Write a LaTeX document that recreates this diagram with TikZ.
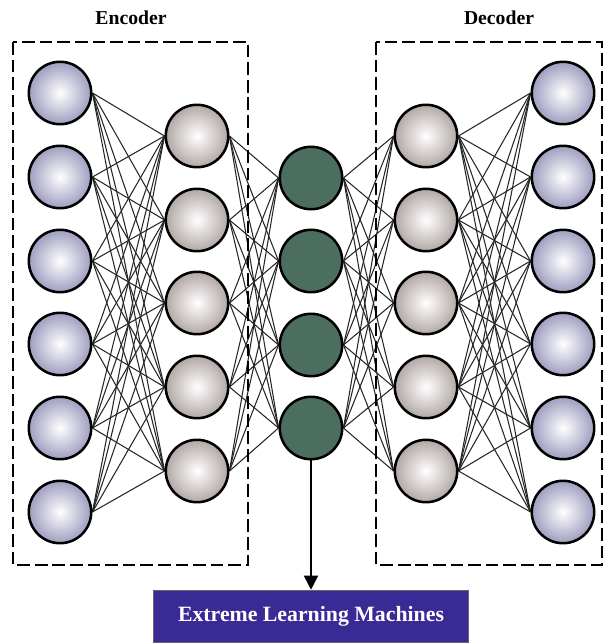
\documentclass[tikz,border=0pt]{standalone}
\usepackage{fontspec}
\setmainfont{Liberation Serif}
\usetikzlibrary{positioning,arrows.meta,backgrounds}
\definecolor{lavblue}{RGB}{158,158,192}
\definecolor{hidgrey}{RGB}{178,168,165}
\definecolor{codegreen}{RGB}{75,110,94}
\definecolor{elmblue}{RGB}{58,42,150}

\begin{document}
\begin{tikzpicture}[x=0.025cm, y=-0.025cm,
  neuron/.style={circle, draw=black, line width=1.8pt, minimum size=1.56cm, inner sep=0pt},
  outer/.style={neuron, inner color=white, outer color=lavblue},
  hid/.style={neuron, inner color=white, outer color=hidgrey},
  code/.style={neuron, fill=codegreen},
  wire/.style={line width=0.75pt, black!85},
  dbox/.style={line width=1.4pt, dash pattern=on 9pt off 3.5pt},
  lbl/.style={font=\fontsize{14}{16}\selectfont\bfseries, inner sep=1pt},
  elmbox/.style={draw=black!60, fill=elmblue, text=white, minimum width=7.875cm, minimum height=1.3cm, font=\fontsize{15.5}{18}\selectfont\bfseries}]
\useasboundingbox (0,0) rectangle (605,644);
% layers
\foreach \i/\y in {1/93, 2/177, 3/261, 4/344, 5/428, 6/512}{
  \node[outer] (in\i) at (60,\y) {};
  \node[outer] (out\i) at (563,\y) {};
}
\foreach \i/\y in {1/136, 2/220, 3/303, 4/387, 5/471}{
  \node[hid] (he\i) at (197,\y) {};
  \node[hid] (hd\i) at (426,\y) {};
}
\foreach \i/\y in {1/178, 2/261, 3/345, 4/428}{\node[code] (z\i) at (311,\y) {};}
% connections
\begin{scope}[on background layer]
\foreach \a in {1,...,6}{\foreach \b in {1,...,5}{
  \draw[wire] (in\a.east) -- (he\b.west);
  \draw[wire] (hd\b.east) -- (out\a.west);
}}
\foreach \a in {1,...,5}{\foreach \b in {1,...,4}{
  \draw[wire] (he\a.east) -- (z\b.west);
  \draw[wire] (z\b.east) -- (hd\a.west);
}}
\end{scope}
% boxes and labels
\draw[dbox] (13,42) rectangle (248,565);
\draw[dbox] (376,42) rectangle (602,565);
\node[lbl] (enc) at (131,18) {Encoder};
\node[lbl] (dec) at (499,18) {Decoder};
\node[elmbox] (elm) at (311,616) {Extreme Learning Machines};
\draw[line width=1.3pt, -{Triangle[width=10pt, length=10pt]}] (z4.south) -- (elm.north);
\end{tikzpicture}
\end{document}
